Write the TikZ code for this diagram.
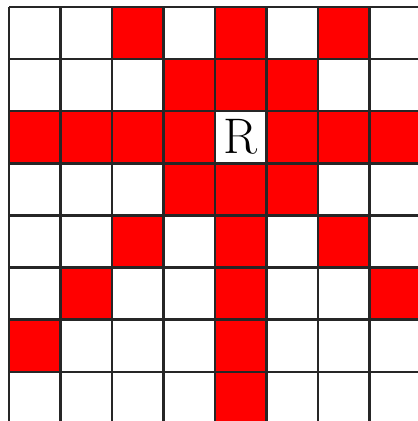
\documentclass[tikz,border=0pt]{standalone}
\begin{document}
\begin{tikzpicture}[x=1pt,y=-1pt,
  cellred/.style={fill=red},
  gridline/.style={line width=2.4pt,draw=black!85}]
\useasboundingbox (0,0) rectangle (418,421);
\clip (0,0) rectangle (418,421);
\fill[white] (0,0) rectangle (418,421);
\def\cw{51.5}
\def\ch{52.1}
\def\ox{9}
\def\oy{7}
% red cells: row/col
\foreach \r/\c in {0/2,0/4,0/6,
  1/3,1/4,1/5,
  2/0,2/1,2/2,2/3,2/5,2/6,2/7,
  3/3,3/4,3/5,
  4/2,4/4,4/6,
  5/1,5/4,5/7,
  6/0,6/4,
  7/4}
  \fill[cellred] ({\ox+\c*\cw},{\oy+\r*\ch}) rectangle ({\ox+(\c+1)*\cw},{\oy+(\r+1)*\ch});
% grid
\foreach \i in {0,...,8} {
  \draw[gridline] ({\ox+\i*\cw},{\oy}) -- ({\ox+\i*\cw},{\oy+8*\ch});
  \draw[gridline] ({\ox},{\oy+\i*\ch}) -- ({\ox+8*\cw},{\oy+\i*\ch});
}
\node (R) at ({\ox+4.5*\cw},{\oy+2.5*\ch}) {\fontsize{50}{50}\selectfont R};
\end{tikzpicture}
\end{document}
